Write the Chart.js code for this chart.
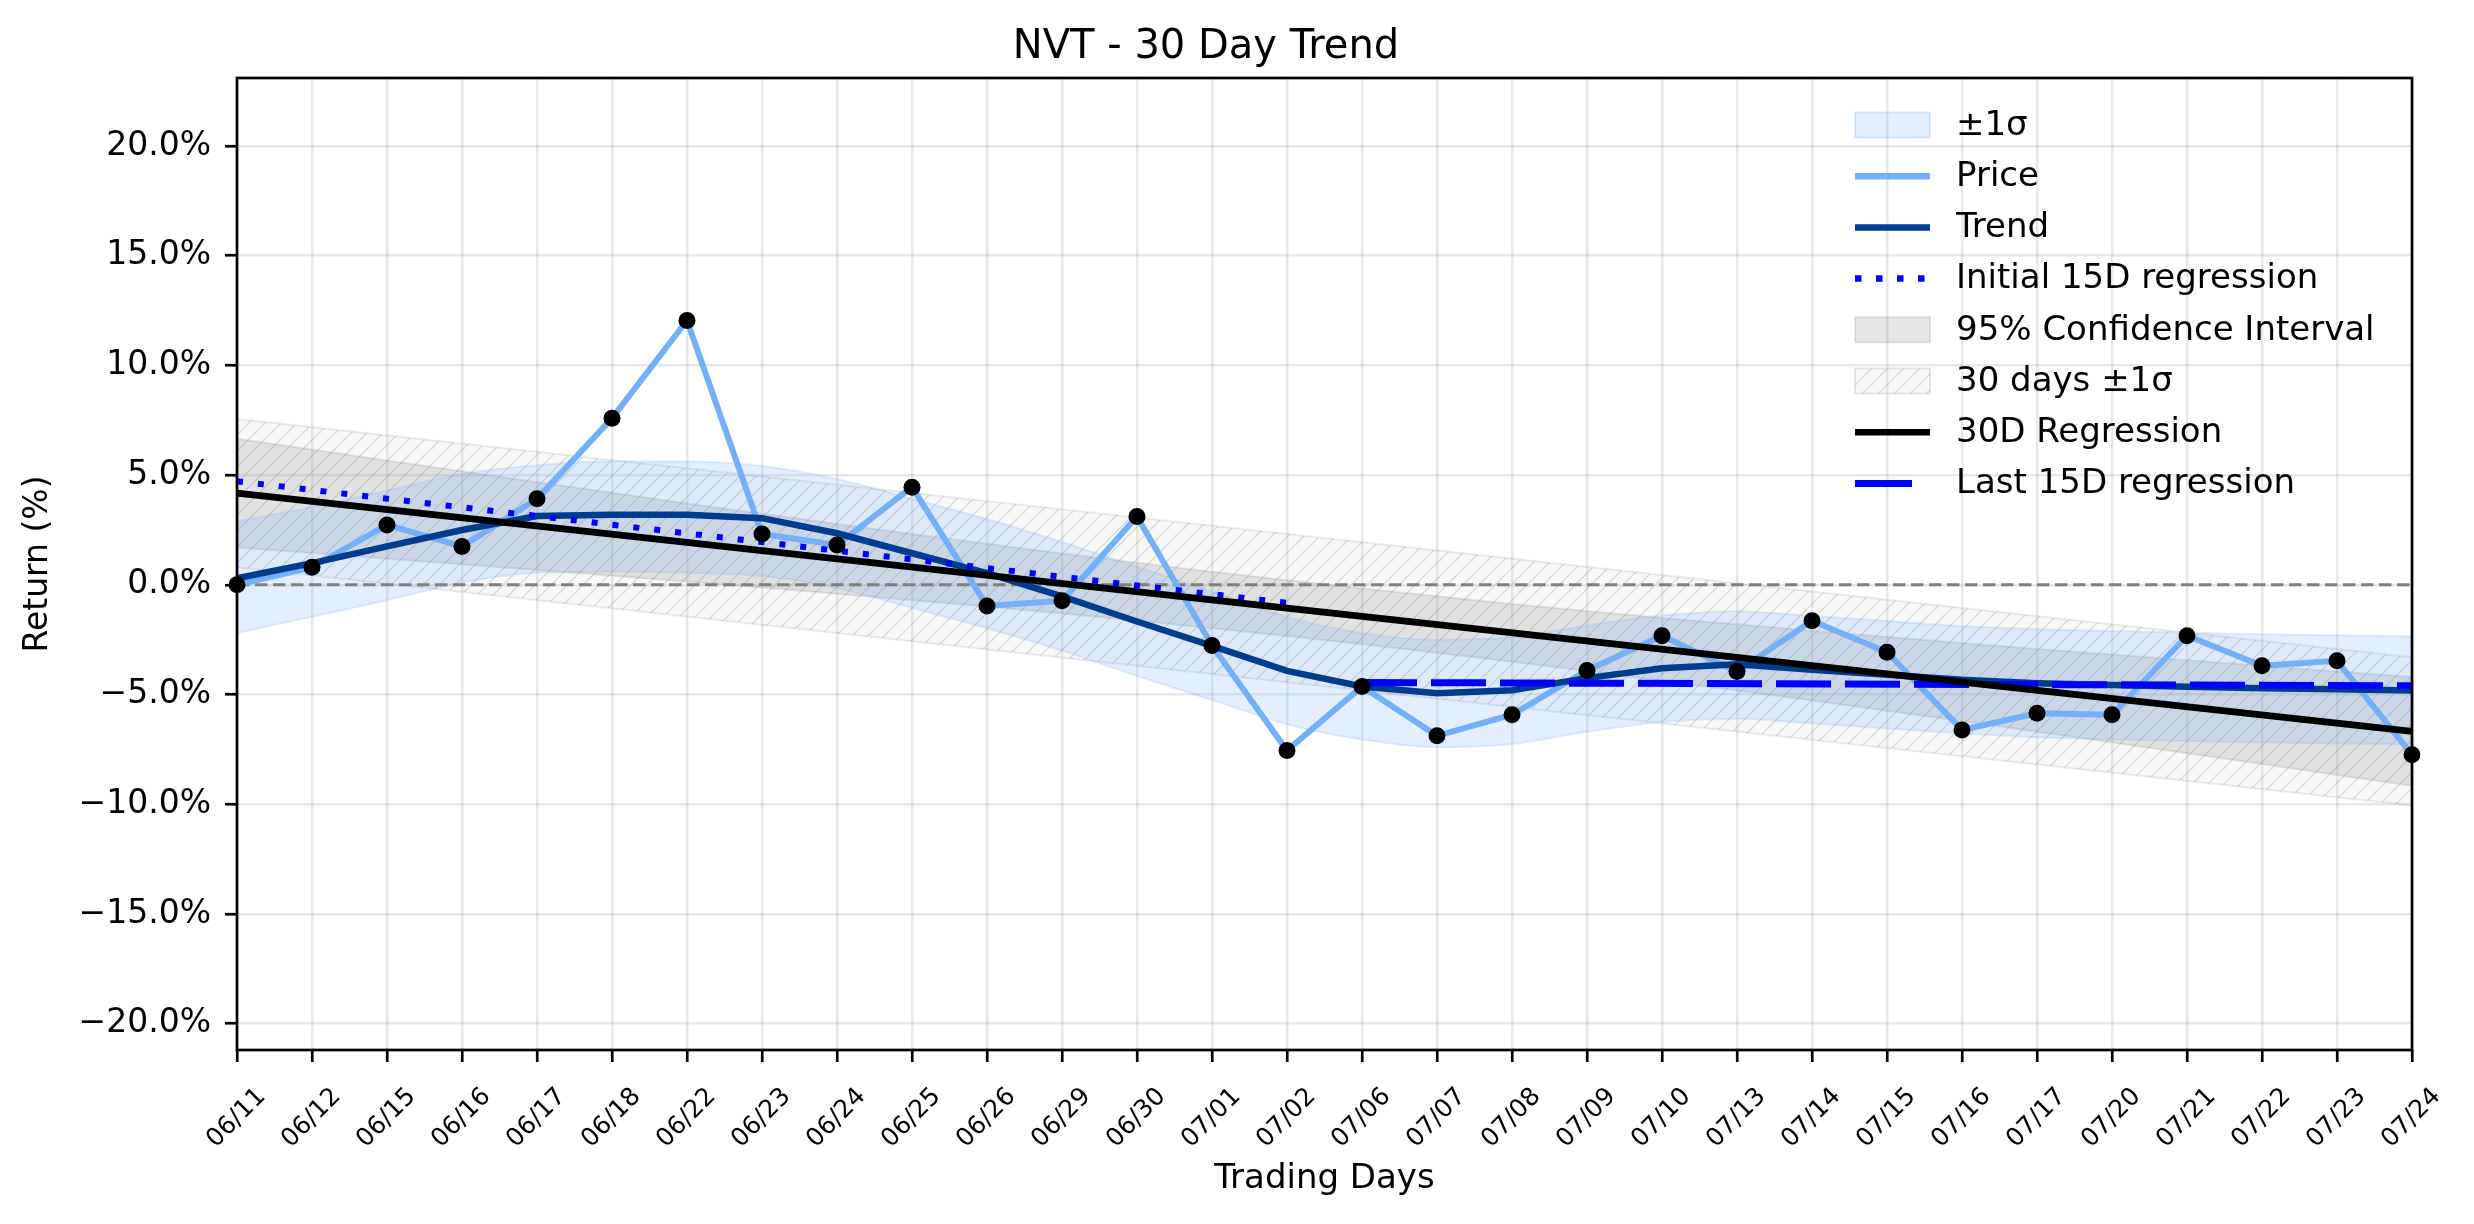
<!DOCTYPE html>
<html>
<head>
<meta charset="utf-8">
<script src="https://cdn.jsdelivr.net/npm/chart.js@4.4.1/dist/chart.umd.min.js"></script>
<style>
html, body { margin: 0; padding: 0; background: #fff; }
</style>
</head>
<body>
<canvas id="trend" width="2474" height="1224"></canvas>
<script>
// trading days on the x axis
var days = ['06/11','06/12','06/15','06/16','06/17','06/18','06/22','06/23','06/24','06/25',
            '06/26','06/29','06/30','07/01','07/02','07/06','07/07','07/08','07/09','07/10',
            '07/13','07/14','07/15','07/16','07/17','07/20','07/21','07/22','07/23','07/24']

// cumulative return (%)
var price = [0.00, 0.80, 2.73, 1.75, 3.92, 7.59, 12.05, 2.32, 1.82, 4.45,
             -0.96, -0.73, 3.11, -2.76, -7.55, -4.63, -6.88, -5.92, -3.90, -2.32,
             -3.95, -1.64, -3.07, -6.61, -5.85, -5.92, -2.32, -3.69, -3.46, -7.74]

var trend = [0.30, 0.99, 1.75, 2.50, 3.14, 3.19, 3.19, 3.04, 2.35, 1.44,
             0.53, -0.53, -1.67, -2.78, -3.92, -4.63, -4.94, -4.80, -4.25, -3.80,
             -3.62, -3.87, -4.10, -4.33, -4.48, -4.56, -4.64, -4.71, -4.76, -4.81]

// +-1 sigma band around the trend
var sigmaHi = [2.90, 3.55, 4.30, 5.05, 5.45, 5.62, 5.62, 5.42, 4.82, 3.92,
               3.00, 1.95, 0.82, -0.30, -1.45, -2.20, -2.50, -2.38, -1.85, -1.40,
               -1.20, -1.42, -1.65, -1.88, -2.02, -2.10, -2.18, -2.25, -2.30, -2.35]
var sigmaLo = [-2.20, -1.45, -0.70, 0.10, 0.55, 0.60, 0.55, 0.40, -0.15, -1.05,
               -1.98, -3.00, -4.15, -5.25, -6.35, -7.05, -7.40, -7.25, -6.70, -6.25,
               -6.10, -6.32, -6.55, -6.78, -6.95, -7.05, -7.12, -7.18, -7.23, -7.28]

// 95% confidence interval of the 30D regression
var ciHi = [6.66, 6.17, 5.67, 5.18, 4.68, 4.20, 3.71, 3.24, 2.77, 2.32,
            1.87, 1.43, 1.01, 0.60, 0.21, -0.17, -0.52, -0.87, -1.19, -1.51,
            -1.80, -2.09, -2.38, -2.65, -2.92, -3.18, -3.44, -3.69, -3.95, -4.20]
var ciLo = [1.70, 1.45, 1.19, 0.94, 0.68, 0.42, 0.15, -0.12, -0.41, -0.70,
            -0.99, -1.31, -1.63, -1.98, -2.33, -2.71, -3.10, -3.51, -3.93, -4.37,
            -4.82, -5.27, -5.74, -6.21, -6.70, -7.18, -7.68, -8.17, -8.67, -9.16]

// straight lines: values at their first and last day
var reg30 = [4.18, -6.68]       // 06/11 -> 07/24
var band30Hi = [7.56, -3.30]
var band30Lo = [0.80, -10.06]
var initReg = [4.72, -0.82]     // 06/11 -> 07/02
var lastReg = [-4.45, -4.60]    // 07/06 -> 07/24
var zeroLine = [0, 0]

var yTicks = [-20, -15, -10, -5, 0, 5, 10, 15, 20]

var FONT = "'DejaVu Sans', sans-serif"
var PRICE = '#74b0f8'
var TREND = '#003d8f'

function ends(vals, a, b){
    return [{x: days[a], y: vals[0]}, {x: days[b], y: vals[1]}]
}

function hatchPattern(){
    var c = document.createElement('canvas')
    c.width = 16; c.height = 16
    var g = c.getContext('2d')
    g.fillStyle = 'rgba(190,190,190,0.1)'
    g.fillRect(0, 0, 16, 16)
    g.strokeStyle = 'rgba(150,150,150,0.3)'
    g.lineWidth = 1.5
    g.beginPath()
    g.moveTo(-4, 20); g.lineTo(20, -4)
    g.moveTo(-4, 4); g.lineTo(4, -4)
    g.moveTo(12, 20); g.lineTo(20, 12)
    g.stroke()
    return g.createPattern(c, 'repeat')
}
var hatch = hatchPattern()

function plain(o){
    o.pointRadius = 0
    o.pointHoverRadius = 0
    if (o.fill === undefined) o.fill = false
    return o
}

var datasets = [
    plain({data: ends(band30Lo, 0, 29), borderColor: 'rgba(128,128,128,0.16)', borderWidth: 2, order: 20}),
    plain({data: ends(band30Hi, 0, 29), borderColor: 'rgba(128,128,128,0.16)', borderWidth: 2, fill: '-1', backgroundColor: hatch, order: 20}),
    plain({data: ciLo, borderColor: 'rgba(128,128,128,0.18)', borderWidth: 2, order: 19}),
    plain({data: ciHi, borderColor: 'rgba(128,128,128,0.18)', borderWidth: 2, fill: '-1', backgroundColor: 'rgba(128,128,128,0.2)', order: 19}),
    plain({data: sigmaLo, borderColor: 'rgba(116,176,248,0.2)', borderWidth: 2, cubicInterpolationMode: 'monotone', order: 18}),
    plain({data: sigmaHi, borderColor: 'rgba(116,176,248,0.2)', borderWidth: 2, cubicInterpolationMode: 'monotone', fill: '-1', backgroundColor: 'rgba(116,176,248,0.2)', order: 18}),
    plain({data: ends(zeroLine, 0, 29), borderColor: '#808080', borderWidth: 3, borderDash: [12.5, 5.5], order: 15}),
    plain({data: price, borderColor: PRICE, borderWidth: 6, order: 12}),
    plain({data: trend, borderColor: TREND, borderWidth: 6.5, order: 11}),
    plain({data: ends(reg30, 0, 29), borderColor: '#000', borderWidth: 6.7, order: 8}),
    plain({data: ends(initReg, 0, 14), borderColor: '#0000ff', borderWidth: 6, borderDash: [6, 15], borderCapStyle: 'butt', order: 9}),
    plain({data: ends(lastReg, 15, 29), borderColor: '#0000ff', borderWidth: 7, borderDash: [55, 14], order: 10}),
    {data: price, showLine: false, pointRadius: 8.5, pointHoverRadius: 8.5, pointBackgroundColor: '#000', pointBorderWidth: 0, order: 1}
]

var legendItems = [
    {label: '\u00b11\u03c3', patch: 'rgba(116,176,248,0.2)', edge: 'rgba(116,176,248,0.25)'},
    {label: 'Price', color: PRICE, width: 6.5},
    {label: 'Trend', color: TREND, width: 6.5},
    {label: 'Initial 15D regression', color: '#0000ff', width: 6.5, dash: [6.5, 14.5]},
    {label: '95% Confidence Interval', patch: 'rgba(128,128,128,0.2)', edge: 'rgba(128,128,128,0.2)'},
    {label: '30 days \u00b11\u03c3', patch: hatch, edge: 'rgba(128,128,128,0.2)'},
    {label: '30D Regression', color: '#000', width: 6.5},
    {label: 'Last 15D regression', color: '#0000ff', width: 7, len: 57}
]

var framePlugin = {
    id: 'frame',
    afterDatasetsDraw: function(chart){
        var a = chart.chartArea, ctx = chart.ctx
        ctx.save()
        ctx.strokeStyle = '#000'
        ctx.lineWidth = 2.7
        ctx.strokeRect(a.left, a.top, a.right - a.left, a.bottom - a.top)
        ctx.restore()
    }
}

var legendPlugin = {
    id: 'insideLegend',
    afterDraw: function(chart){
        var ctx = chart.ctx
        var x0 = 1855, x1 = 1930, tx = 1956, y = 125, step = 51.2
        ctx.save()
        ctx.font = '34px ' + FONT
        ctx.textBaseline = 'middle'
        ctx.textAlign = 'left'
        for (var i = 0; i < legendItems.length; i++) {
            var it = legendItems[i]
            var cy = y + i * step
            if (it.patch) {
                ctx.fillStyle = it.patch
                ctx.fillRect(x0, cy - 12.5, x1 - x0, 25)
                ctx.strokeStyle = it.edge
                ctx.lineWidth = 2
                ctx.strokeRect(x0, cy - 12.5, x1 - x0, 25)
            } else {
                ctx.strokeStyle = it.color
                ctx.lineWidth = it.width
                ctx.setLineDash(it.dash || [])
                ctx.beginPath()
                ctx.moveTo(x0, cy)
                ctx.lineTo(it.len ? x0 + it.len : x1, cy)
                ctx.stroke()
                ctx.setLineDash([])
            }
            ctx.fillStyle = '#000'
            ctx.fillText(it.label, tx, cy + 1)
        }
        ctx.restore()
    }
}

var ctx = document.getElementById('trend')
var chart = new Chart(ctx, {
    type: 'line',
    data: {labels: days, datasets: datasets},
    plugins: [framePlugin, legendPlugin],
    options: {
        responsive: false,
        animation: false,
        devicePixelRatio: 1,
        layout: {padding: {top: 0, left: 0, right: 62, bottom: 0}},
        plugins: {
            legend: {display: false},
            tooltip: {enabled: false},
            title: {
                display: true,
                text: 'NVT - 30 Day Trend',
                color: '#000',
                font: {family: FONT, size: 40, weight: 'normal'},
                padding: {top: 24, bottom: 6}
            }
        },
        scales: {
            x: {
                type: 'category',
                offset: false,
                afterFit: function(s){ s.height = 174 },
                grid: {offset: false, color: 'rgba(0,0,0,0.09)', lineWidth: 2.5, tickColor: '#000', tickLength: 12, tickWidth: 2.7},
                border: {display: false},
                ticks: {
                    autoSkip: false, minRotation: 45, maxRotation: 45,
                    color: '#000', padding: 20, labelOffset: 25,
                    font: {family: FONT, size: 25}
                },
                title: {display: true, text: 'Trading Days', color: '#000', font: {family: FONT, size: 34}, padding: {top: 0, bottom: 24}}
            },
            y: {
                min: -21.2,
                max: 23.1,
                afterFit: function(s){ s.width = 237 },
                afterBuildTicks: function(s){ s.ticks = yTicks.map(function(v){ return {value: v} }) },
                grid: {color: 'rgba(0,0,0,0.09)', lineWidth: 2.5, tickColor: '#000', tickLength: 12, tickWidth: 2.7},
                border: {display: false},
                ticks: {
                    color: '#000', padding: 14,
                    font: {family: FONT, size: 33},
                    callback: function(v){ return (v < 0 ? '\u2212' : '') + Math.abs(v).toFixed(1) + '%' }
                },
                title: {display: true, text: 'Return (%)', color: '#000', font: {family: FONT, size: 33}, padding: {top: 19, bottom: 0}}
            }
        }
    }
})
</script>
</body>
</html>
